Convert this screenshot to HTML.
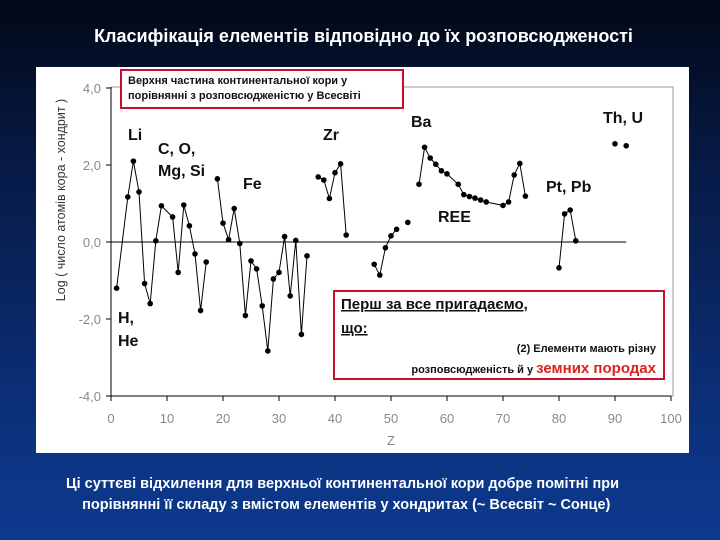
<!DOCTYPE html>
<html><head><meta charset="utf-8"><style>
body{margin:0;width:720px;height:540px;overflow:hidden;font-family:"Liberation Sans",sans-serif;background:linear-gradient(#020817 0%,#071a45 30%,#0c3483 85%,#0d3a8e 100%);}
#title{position:absolute;left:0;width:727px;top:26px;text-align:center;color:#fff;font-weight:bold;font-size:18px;}
#panel{position:absolute;left:36px;top:67px;width:653px;height:386px;background:#fff;}
#foot{position:absolute;left:66px;top:474px;width:630px;color:#fff;font-weight:bold;font-size:14.5px;line-height:21px;}
</style></head><body>
<div id="title">Класифікація елементів відповідно до їх розповсюдженості</div>
<div id="panel"></div>
<svg id="chart" width="720" height="540" style="position:absolute;left:0;top:0"></svg>
<div id="foot">Ці суттєві відхилення для верхньої континентальної кори добре помітні при<br>&nbsp;&nbsp;&nbsp;&nbsp;порівнянні її складу з вмістом елементів у хондритах (~ Всесвіт ~ Сонце)</div>
<script>
const zValues=[1,3,4,5,6,7,8,9,11,12,13,14,15,16,17,null,19,20,21,22,23,24,25,26,27,28,29,30,31,32,33,34,35,null,37,38,39,40,41,42,null,47,48,49,50,51,null,53,null,55,56,57,58,59,60,62,63,64,65,66,67,70,71,72,73,74,null,80,81,82,83,null,90,null,92];
const logValues=[-1.2,1.17,2.1,1.3,-1.08,-1.6,0.03,0.94,0.65,-0.79,0.96,0.42,-0.31,-1.78,-0.52,null,1.64,0.49,0.06,0.87,-0.04,-1.91,-0.49,-0.7,-1.66,-2.83,-0.96,-0.79,0.14,-1.4,0.04,-2.4,-0.36,null,1.69,1.61,1.13,1.8,2.03,0.18,null,-0.58,-0.86,-0.15,0.16,0.33,null,0.51,null,1.5,2.46,2.18,2.02,1.85,1.77,1.5,1.23,1.18,1.14,1.09,1.04,0.95,1.04,1.74,2.04,1.19,null,-0.67,0.73,0.83,0.03,null,2.55,null,2.5];
const xTicks=[0,10,20,30,40,50,60,70,80,90,100];
const yTicks=[4,2,0,-2,-4];
const yTickLabels=["4,0","2,0","0,0","-2,0","-4,0"];
const NS="http://www.w3.org/2000/svg";
const svg=document.getElementById('chart');
const X0=111,X1=671,Y4=88,Ym4=396;
const sx=z=>X0+(z-0)*(X1-X0)/100;
const sy=v=>Y4+(4-v)*(Ym4-Y4)/8;
function mk(t,a,txt){const e=document.createElementNS(NS,t);for(const k in a)e.setAttribute(k,a[k]);if(txt!==undefined)e.textContent=txt;svg.appendChild(e);return e;}
let e;
e=mk('rect',{x:X0,y:87,width:562,height:Ym4-87,fill:'none',stroke:'#999','stroke-width':1});


e=mk('line',{x1:X0,y1:87,x2:X0,y2:Ym4,stroke:'#000','stroke-width':1});


e=mk('line',{x1:X0,y1:Ym4,x2:X1,y2:Ym4,stroke:'#000','stroke-width':1});


e=mk('line',{x1:X0,y1:sy(0),x2:sx(92),y2:sy(0),stroke:'#000','stroke-width':1});


yTicks.forEach((v,i)=>{
 mk('line',{x1:X0-5,y1:sy(v),x2:X0,y2:sy(v),stroke:'#000'});
 e=mk('text',{x:X0-10,y:sy(v)+5,'text-anchor':'end','font-size':13,fill:'#888'},yTickLabels[i]);
 
 
});
xTicks.forEach(t=>{
 mk('line',{x1:sx(t),y1:Ym4,x2:sx(t),y2:Ym4+5,stroke:'#000'});
 e=mk('text',{x:sx(t),y:423,'text-anchor':'middle','font-size':13,fill:'#888'},String(t));
 
 
});
e=mk('text',{x:391,y:445,'text-anchor':'middle','font-size':13,fill:'#888'},'Z');


e=mk('text',{x:0,y:0,transform:'translate(65,200) rotate(-90)','text-anchor':'middle','font-size':12.5,fill:'#333'},'Log  ( число атомів кора - хондрит )');


let seg=[];
function flush(){if(seg.length>1){e=mk('polyline',{points:seg.join(' '),fill:'none',stroke:'#000','stroke-width':1});}seg=[];}
zValues.forEach((z,i)=>{if(z===null||logValues[i]===null){flush();return;}seg.push(sx(z)+','+sy(logValues[i]));});
flush();
zValues.forEach((z,i)=>{if(z===null||logValues[i]===null)return;
 e=mk('circle',{cx:sx(z),cy:sy(logValues[i]),r:2.8,fill:'#000'});
 
 
});
const labels=[["Li",128,140],["C, O,",158,154],["Mg, Si",158,176],["Fe",243,189],["Zr",323,140],["Ba",411,127],["Th, U",603,123],["REE",438,222],["Pt, Pb",546,192],["H,",118,323],["He",118,346]];
labels.forEach(l=>{e=mk('text',{x:l[1],y:l[2],'font-size':16,'font-weight':'bold',fill:'#111'},l[0]);
 
 });
e=mk('rect',{x:121,y:70,width:282,height:38,fill:'#fff',stroke:'#c8102e','stroke-width':2});


mk('text',{x:128,y:84,'font-size':11,'font-weight':'bold',fill:'#111'},'Верхня частина континентальної кори у');
mk('text',{x:128,y:99,'font-size':11,'font-weight':'bold',fill:'#111'},'порівнянні з розповсюдженістю у Всесвіті');
e=mk('rect',{x:334,y:291,width:330,height:88,fill:'#fff',stroke:'#c8102e','stroke-width':2});


mk('text',{x:341,y:309,'font-size':15,'font-weight':'bold',fill:'#111','text-decoration':'underline'},'Перш за все пригадаємо,');
mk('text',{x:341,y:333,'font-size':15,'font-weight':'bold',fill:'#111','text-decoration':'underline'},'що:');
mk('text',{x:656,y:352,'font-size':11,'font-weight':'bold',fill:'#111','text-anchor':'end'},'(2) Елементи мають різну');
e=mk('text',{x:656,y:373,'font-size':11,'font-weight':'bold',fill:'#111','text-anchor':'end'});
e.innerHTML='розповсюдженість й у <tspan font-size="15" fill="#e0201a">земних породах</tspan>';
</script>
</body></html>
